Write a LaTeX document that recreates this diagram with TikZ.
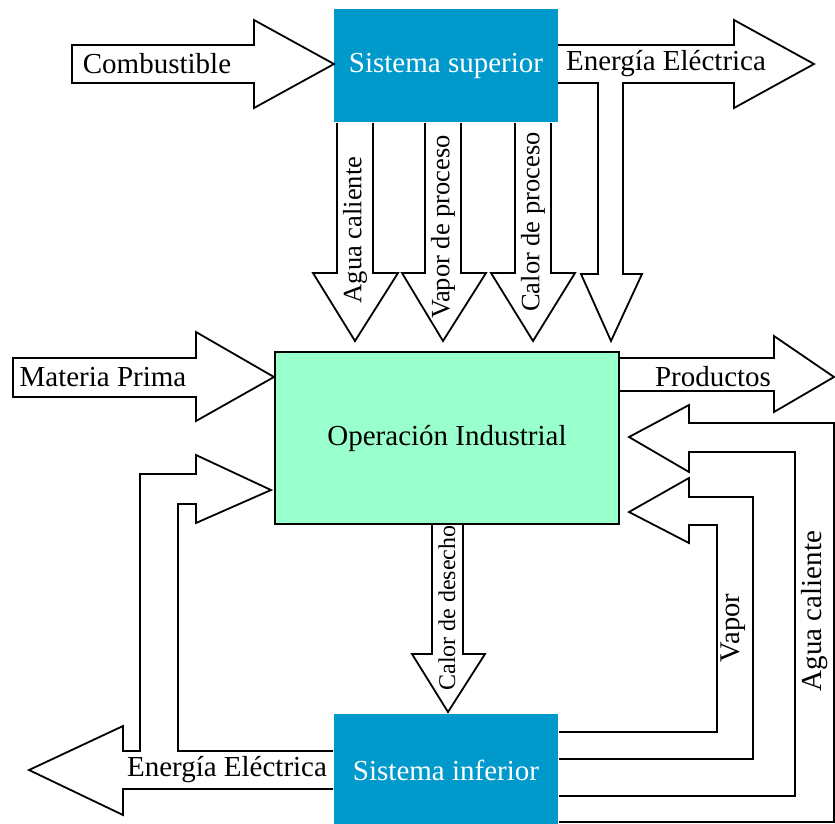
\documentclass[tikz,border=0pt]{standalone}
\usepackage{fontspec}
\setmainfont{Liberation Serif}
\usepackage{tikz}
\usetikzlibrary{calc}
\definecolor{azul}{HTML}{0099CC}
\definecolor{menta}{HTML}{99FFCC}

\tikzset{
	caja/.style={fill=azul, text=white, inner sep=0pt, font=\fontsize{29}{34}\selectfont},
	flecha/.style={draw=black, line width=1.8pt, fill=white, line join=miter},
	etiq/.style={inner sep=0pt, font=\fontsize{29}{34}\selectfont},
	etiqv/.style={inner sep=0pt, rotate=90, font=\fontsize{26.5}{30}\selectfont}
}

\begin{document}
\begin{tikzpicture}[x=1pt, y=-1pt]
\useasboundingbox (0,0) rectangle (835,823);

% bloques
\node[caja, minimum width=224pt, minimum height=113pt] (sup) at (446,65.5) {Sistema superior};
\node[caja, minimum width=224pt, minimum height=112pt] (inf) at (446,770) {Sistema inferior};
\node[etiq, draw=black, line width=1.8pt, fill=menta, minimum width=344pt, minimum height=172pt] (op) at (447,438) {Operaci\'on Industrial};

% entradas y salidas
\draw[flecha] (72,45) -- (254,45) -- (254,20) -- (334,64) -- (254,108) -- (254,83) -- (72,83) -- cycle;
\draw[flecha] (558,45) -- (734,45) -- (734,20) -- (814,64) -- (734,108) -- (734,83) -- (623,83) -- (623,274)
	-- (642,274) -- (611,341) -- (581,274) -- (598,274) -- (598,83) -- (558,83);
\draw[flecha] (13,358) -- (196,358) -- (196,332) -- (274,377) -- (196,421) -- (196,397) -- (13,397) -- cycle;
\draw[flecha] (620,358) -- (774,358) -- (774,336) -- (834,377) -- (774,412) -- (774,391) -- (620,391);

% del sistema superior
\draw[flecha] (337,123) -- (337,273) -- (313,273) -- (355,341) -- (398,273) -- (373,273) -- (373,123);
\draw[flecha] (425,123) -- (425,273) -- (402,273) -- (443,341) -- (486,273) -- (461,273) -- (461,123);
\draw[flecha] (515,123) -- (515,273) -- (491,273) -- (533,341) -- (575,273) -- (551,273) -- (551,123);

% al sistema inferior
\draw[flecha] (432,525) -- (432,654) -- (412,654) -- (448,712) -- (485,654) -- (463,654) -- (463,525);

% del sistema inferior
\draw[flecha] (333,751) -- (178,751) -- (178,504) -- (196,504) -- (196,523) -- (271,490) -- (196,455) -- (196,474)
	-- (140,474) -- (140,751) -- (123,751) -- (123,726) -- (29,770) -- (123,815) -- (123,789) -- (333,789);
\draw[flecha] (559,732) -- (717,732) -- (717,525) -- (689,525) -- (689,543) -- (629,512) -- (689,478) -- (689,497)
	-- (753,497) -- (753,759) -- (559,759);
\draw[flecha] (559,796) -- (795,796) -- (795,452) -- (689,452) -- (689,472) -- (629,437) -- (689,405) -- (689,423)
	-- (834,423) -- (834,822) -- (559,822);

% textos
\node[etiq] (comb) at (157,64) {Combustible};
\node[etiq] (eesup) at (666,64) {Energ\'ia El\'ectrica};
\node[etiq] (mat) at (103,377) {Materia Prima};
\node[etiq] (prod) at (713,377) {Productos};
\node[etiq] (eeinf) at (227,770) {Energ\'ia El\'ectrica};
\node[etiqv] (agsup) at (355,230) {Agua caliente};
\node[etiqv] (vapsup) at (443,227) {Vapor de proceso};
\node[etiqv] (calsup) at (533,222) {Calor de proceso};
\node[etiqv, font=\fontsize{24}{28}\selectfont] (caldes) at (447,608) {Calor de desecho};
\node[etiqv, font=\fontsize{28.5}{32}\selectfont] (vapinf) at (733,628) {Vapor};
\node[etiqv, font=\fontsize{29}{34}\selectfont] (aginf) at (815,611) {Agua caliente};
\end{tikzpicture}
\end{document}
